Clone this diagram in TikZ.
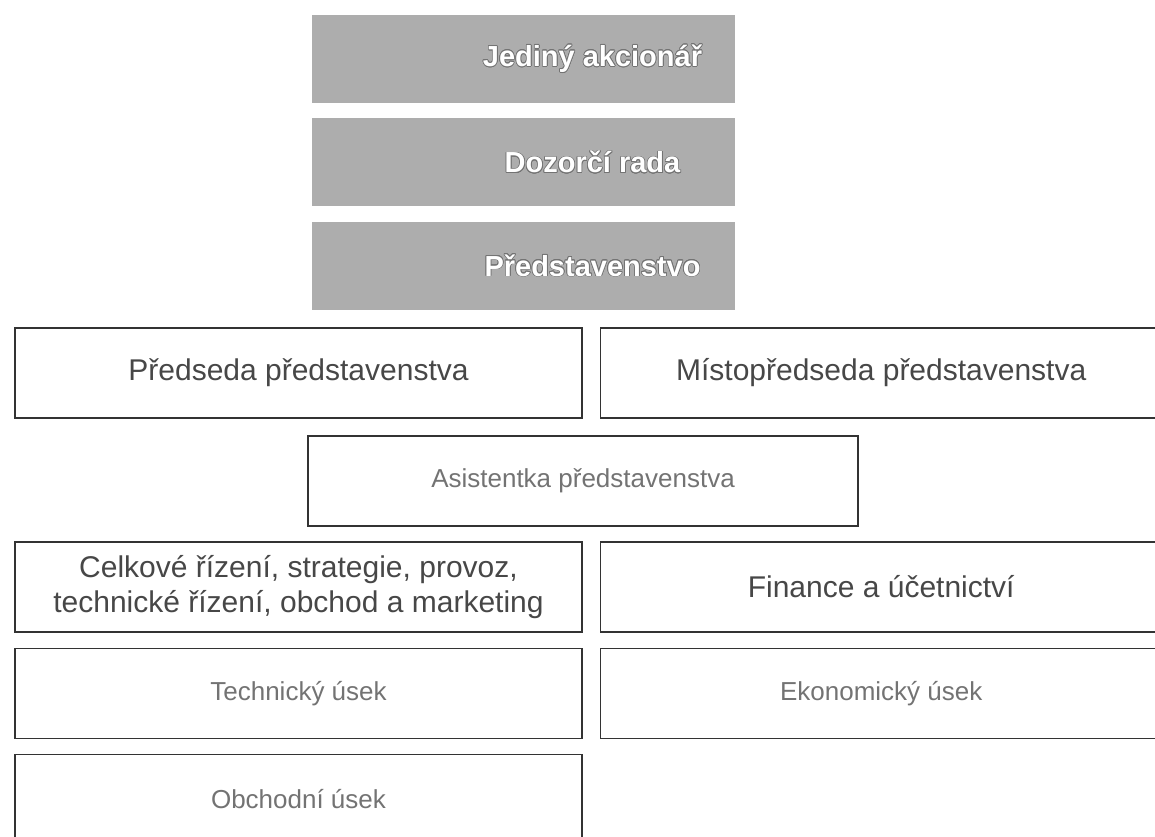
\documentclass[tikz,border=0pt]{standalone}
\usepackage{fontspec}
\setmainfont{Liberation Sans}
\usepackage{tikz}
\usepackage{contour}
\contourlength{0.7pt}
\usetikzlibrary{positioning}

\begin{document}
\begin{tikzpicture}[x=1pt, y=-1pt,
		topbox/.style={fill=black!32, minimum width=423pt, minimum height=88pt, inner sep=0pt,
			label={[toptext]center:\contour{black!55}{#1}}},
		toptext/.style={xshift=69pt, text=white, font=\fontsize{29}{33}\selectfont\bfseries},
		headbox/.style={draw=black!80, line width=1.2pt, minimum width=567pt, minimum height=90pt, inner sep=0pt, text=black!72, font=\fontsize{30}{35}\selectfont},
		unitbox/.style={headbox, text=black!55, font=\fontsize{26}{30}\selectfont},
		node distance=15pt and 17pt,
		every node/.style={align=center}
		]
		
		% Page frame
		\clip (0,0) rectangle (1155,836);
		
		% Owners and boards
		\node[topbox=Jediný akcionář] (owner) at (523.5,59) {};
		\node[topbox=Dozorčí rada, below=of owner] (board) {};
		\node[topbox=Představenstvo, below=of board] (exec) {};
		
		% Management
		\node[headbox] (chair) at (298.5,373) {Předseda představenstva};
		\node[headbox, minimum width=562pt, right=of chair] (vice) {Místopředseda představenstva};
		\node[unitbox, minimum width=550pt] (assist) at (583,481) {Asistentka představenstva};
		
		% Divisions
		\node[headbox] (general) at (298.5,587) {Celkové řízení, strategie, provoz,\\ technické řízení, obchod a marketing};
		\node[headbox, minimum width=562pt, right=of general] (finance) {Finance a účetnictví};
		\node[unitbox, below=of general] (tech) {Technický úsek};
		\node[unitbox, minimum width=562pt, below=of finance] (econ) {Ekonomický úsek};
		\node[unitbox, below=of tech] (sales) {Obchodní úsek};
		
	\end{tikzpicture}
\end{document}
